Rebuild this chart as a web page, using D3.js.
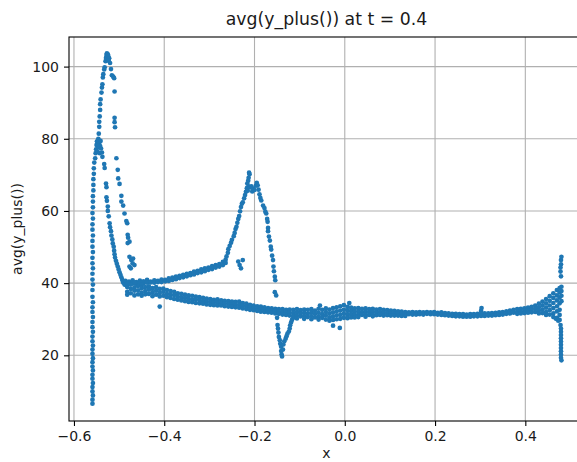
<!DOCTYPE html>
<html>
<head>
<meta charset="utf-8">
<script src="https://cdn.jsdelivr.net/npm/d3@7"></script>
<style>
  html, body { margin: 0; padding: 0; background: #ffffff; }
  svg { display: block; font-family: "DejaVu Sans", sans-serif; }
</style>
</head>
<body>
<svg id="chart" width="577" height="462"></svg>
<script>
// ---- data: avg(y_plus()) sampled along x at t = 0.4 ----
const chartTitle = "avg(y_plus()) at t = 0.4";
const xLabel = "x";
const yLabel = "avg(y_plus())";
const xTicks = [-0.6, -0.4, -0.2, 0.0, 0.2, 0.4];
const yTicks = [20, 40, 60, 80, 100];

// near-vertical column at the leading edge
const leftColumn = [
  [-0.559,6.6],[-0.559,7.7],[-0.558,8.9],[-0.559,10.0],[-0.559,11.2],[-0.558,12.3],[-0.559,13.5],
  [-0.559,14.6],[-0.558,15.8],[-0.559,16.9],[-0.559,18.1],[-0.558,19.2],[-0.559,20.4],[-0.559,21.6],
  [-0.558,22.7],[-0.559,23.9],[-0.559,25.2],[-0.558,26.5],[-0.559,27.8],[-0.559,29.2],[-0.558,30.6],
  [-0.559,32.0],[-0.559,33.3],[-0.558,34.7],[-0.559,36.2],[-0.559,38.1],[-0.558,39.6],[-0.559,41.0],
  [-0.559,42.6],[-0.558,44.1],[-0.559,45.5],[-0.559,47.0],[-0.558,48.6],[-0.559,50.1],[-0.559,51.7],
  [-0.558,53.2],[-0.559,54.8],[-0.559,56.3],[-0.558,57.9],[-0.559,59.4],[-0.558,61.0],[-0.558,62.6],
  [-0.558,64.1],[-0.557,65.7],[-0.557,67.2],[-0.557,68.8],[-0.556,70.3],[-0.556,71.8]
];

// rise to the leading-edge maximum
const leftPeakRise = [
  [-0.555,73.4],[-0.553,74.6],[-0.552,76.0],[-0.551,77.1],[-0.550,78.3],[-0.549,79.3],[-0.547,78.6],
  [-0.546,80.0],[-0.545,77.6],[-0.544,79.2],[-0.548,76.4],[-0.543,76.0],[-0.546,79.6],[-0.544,78.8],
  [-0.542,78.0],[-0.540,77.3],[-0.538,76.2],[-0.541,79.4],[-0.548,78.0],[-0.537,75.0],
  [-0.545,81.4],[-0.544,83.3],[-0.544,84.7],[-0.543,86.2],[-0.542,88.0],[-0.542,89.6],[-0.541,90.9],
  [-0.539,92.8],[-0.538,94.2],[-0.537,95.1],[-0.536,97.0],[-0.535,97.9],[-0.533,99.2],[-0.532,99.8],
  [-0.530,101.5],[-0.529,102.4],[-0.528,103.2],[-0.527,103.7],[-0.525,103.4],[-0.524,102.9],
  [-0.522,102.3],[-0.523,101.6]
];

// outer branch falling from the maximum
const outerDescent = [
  [-0.520,101.0],[-0.518,99.3],[-0.516,97.6],[-0.513,97.2],[-0.511,96.8],[-0.510,93.1],[-0.510,85.8],
  [-0.510,84.6],[-0.509,83.2],[-0.506,74.6],[-0.503,71.4],[-0.502,69.0],[-0.499,67.5],[-0.495,64.2],
  [-0.495,62.6],[-0.491,61.5],[-0.488,59.3],[-0.484,57.2],[-0.482,56.6],[-0.481,53.4],[-0.480,52.6],
  [-0.481,51.1],[-0.477,51.5],[-0.477,47.3],[-0.473,46.4],[-0.477,44.6],[-0.470,45.5],[-0.466,45.0],
  [-0.474,44.1],[-0.469,46.8]
];

// inner branch falling into the band
const innerDescent = [
  [-0.533,73.0],[-0.532,71.9],[-0.529,67.6],[-0.528,66.6],[-0.528,63.8],[-0.527,62.8],[-0.525,61.2],
  [-0.525,60.0],[-0.523,58.5],[-0.521,56.6],[-0.520,55.5],[-0.518,54.4],[-0.517,53.2],[-0.515,52.1],
  [-0.514,51.0],[-0.512,50.1],[-0.511,49.0],[-0.510,48.0],[-0.509,47.1],[-0.507,46.2],[-0.505,45.4],
  [-0.503,44.6],[-0.501,43.8],[-0.499,43.0],[-0.497,42.3],[-0.495,41.6],[-0.493,40.9],[-0.491,40.2],
  [-0.488,39.6]
];

// upper branch: [x, y values at that x]
const upperBranch = [
  [-0.486,40.6,39.6],[-0.478,40.4,39.7],[-0.470,40.8,39.9],[-0.462,40.3,39.8],[-0.454,40.7,40.0],
  [-0.446,40.5,39.9],[-0.438,40.9,40.1],[-0.430,40.4,40.2],[-0.422,40.8,40.1],[-0.414,40.6,40.3],
  [-0.406,41.0,40.3],[-0.398,40.9,40.5],[-0.390,41.3,40.6],[-0.382,41.5,40.9],[-0.374,41.8,41.1],
  [-0.366,42.0,41.4],[-0.358,42.3,41.6],[-0.350,42.6,41.9],[-0.342,42.8,42.2],[-0.334,43.2,42.4],
  [-0.326,43.4,42.8],[-0.318,43.8,43.0],[-0.310,44.1,43.3],[-0.302,44.3,43.7],[-0.294,44.7,43.9],
  [-0.286,45.0,44.3],[-0.278,45.3,44.6],[-0.270,45.9,45.0],[-0.264,46.5,45.6]
];

// second maximum near x = -0.2
const midPeak = [
  [-0.262,47.4],[-0.259,48.4],[-0.258,49.4],[-0.255,50.3],[-0.252,51.2],[-0.250,52.0],[-0.246,53.0],
  [-0.244,53.9],[-0.242,55.0],[-0.240,55.6],[-0.238,56.7],[-0.236,57.8],[-0.234,58.6],[-0.232,59.9],
  [-0.230,61.1],[-0.228,62.0],[-0.226,62.4],[-0.223,63.5],[-0.221,64.4],[-0.219,65.3],[-0.217,66.3],
  [-0.216,67.6],[-0.214,68.4],[-0.213,69.2],[-0.211,70.2],[-0.212,70.6],[-0.215,65.6],[-0.213,66.8],
  [-0.210,66.5],[-0.207,66.8],[-0.205,65.4],[-0.203,66.2],[-0.200,65.8],[-0.197,67.0],[-0.195,67.8],
  [-0.193,67.1],[-0.191,65.9],[-0.189,64.6],[-0.187,63.6],[-0.185,62.9],[-0.181,61.5],[-0.178,60.8],
  [-0.176,59.8],[-0.174,59.3],[-0.172,57.8],[-0.171,57.0],[-0.170,55.3],[-0.170,54.4],[-0.168,52.9],
  [-0.166,51.8],[-0.164,50.1],[-0.163,49.3],[-0.161,47.6],[-0.159,46.4],[-0.158,44.6],[-0.157,43.3],
  [-0.155,41.8],[-0.154,40.8],[-0.155,37.5],[-0.152,36.6],
  [-0.230,44.1],[-0.233,45.0],[-0.226,46.4],[-0.236,46.0]
];

// dip below the band
const dip = [
  [-0.150,30.4],[-0.149,28.4],[-0.148,27.4],[-0.147,26.3],[-0.146,25.1],[-0.144,24.2],[-0.143,23.2],
  [-0.141,22.4],[-0.141,21.2],[-0.140,20.3],[-0.139,19.7],[-0.137,21.6],[-0.136,23.0],[-0.134,23.9],
  [-0.131,24.6],[-0.129,25.3],[-0.127,26.0],[-0.124,26.6],[-0.122,27.4],[-0.121,28.3],[-0.119,29.1],
  [-0.117,29.8],[-0.114,30.4]
];

// main lower band: [x, y values at that x]
const lowerBand = [
  [-0.482,40.0,38.9,37.6,36.8],[-0.474,39.6,38.4,37.2],[-0.466,40.1,38.8,37.9,36.6],[-0.458,39.2,38.0,36.9],
  [-0.450,39.5,38.6,37.4,36.5],[-0.442,38.9,37.8,36.9],[-0.434,39.1,38.2,37.0],[-0.426,38.6,37.5,36.4],
  [-0.418,38.9,37.9,36.8],[-0.410,38.4,37.3,36.3,33.5],[-0.402,38.5,37.6,36.5],[-0.394,38.1,37.0,36.1],
  [-0.386,37.8,36.8,35.9],[-0.378,37.6,36.7,35.6],[-0.370,37.2,36.3,35.4],[-0.362,37.0,36.0,35.2],
  [-0.354,36.8,35.9,35.0],[-0.346,36.6,35.7,34.8],[-0.338,36.5,35.5,34.7],[-0.330,36.3,35.5,34.5],
  [-0.322,36.1,35.3,34.4],[-0.314,35.9,35.0,34.3],[-0.306,35.7,34.9,34.1],[-0.298,35.6,34.8,34.0],
  [-0.290,35.4,34.7,33.9],[-0.282,35.5,34.6,33.8],[-0.274,35.2,34.5,33.8],[-0.266,35.1,34.4,33.6],
  [-0.258,35.0,34.2,33.5],[-0.250,34.9,34.1,33.4],[-0.242,34.8,34.0,33.3],[-0.234,34.9,34.0,33.2],
  [-0.226,34.5,33.8,33.0],[-0.218,34.3,33.5,32.8],[-0.210,34.0,33.4,32.6],[-0.202,33.8,33.1,32.5],
  [-0.194,33.6,32.9,32.3],[-0.186,33.5,32.8,32.1],[-0.178,33.3,32.6,32.0],[-0.170,33.1,32.5,31.9],
  [-0.162,33.0,32.4,31.8],[-0.154,32.9,32.3,31.6],[-0.146,32.8,32.1,31.5],[-0.138,32.8,32.0,31.3],
  [-0.130,32.6,31.9,31.2],[-0.122,32.7,31.8,31.0],[-0.114,32.6,31.7,30.9],[-0.106,32.8,31.9,31.0,30.2],
  [-0.098,32.5,31.6,30.8],[-0.090,32.7,31.8,30.9,30.1],[-0.082,32.6,31.5,30.6],[-0.074,32.8,31.9,30.9,30.0],
  [-0.066,32.4,31.5,30.5],[-0.058,32.9,31.8,30.8,29.9],[-0.050,32.6,31.4,30.4],[-0.042,33.0,32.0,31.0,29.9],
  [-0.034,32.7,31.6,30.5,29.6],[-0.026,33.1,31.9,30.8,29.8,28.2],[-0.018,33.3,32.2,31.1,30.0],
  [-0.010,33.6,32.4,31.2,30.1],[-0.002,33.9,32.6,31.5,30.4],[0.006,33.4,32.3,31.2,30.3],
  [0.014,33.2,32.3,31.4,30.5],[0.022,33.0,32.1,31.2,30.5],[0.030,33.1,32.2,31.3,30.6],[0.038,32.9,32.0,31.2],
  [0.046,33.0,32.2,31.3,30.7],[0.054,32.8,32.0,31.2],[0.062,32.9,32.1,31.3,30.8],[0.070,32.7,31.9,31.1],
  [0.078,32.8,32.0,31.2],[0.086,32.6,31.8,31.0],[0.094,32.5,31.8,31.1],[0.102,32.4,31.7,31.0],
  [0.110,32.3,31.6,31.0],[0.118,32.2,31.6,31.0],[0.126,32.1,31.5,30.9],[0.134,32.0,31.4,30.9],
  [0.142,31.9,31.4],[0.150,32.0,31.3],[0.158,31.9,31.3],[0.166,32.0,31.4],[0.174,31.9,31.3],
  [0.182,32.0,31.5],[0.190,31.9,31.4],[0.198,32.0,31.4],[0.206,31.8,31.3],[0.214,31.9,31.2],
  [0.222,31.7,31.1],[0.230,31.6,31.0],[0.238,31.5,30.9],[0.246,31.5,30.8],[0.254,31.4,30.8],
  [0.262,31.4,30.7],[0.270,31.3,30.7],[0.278,31.4,30.7],[0.286,31.4,30.8],[0.294,31.5,30.8],
  [0.302,32.3,31.5,30.9],[0.310,31.6,30.9],[0.318,31.6,31.0],[0.326,31.7,31.0],[0.334,31.8,31.1],
  [0.342,31.9,31.2],[0.350,32.0,31.3],[0.358,32.2,31.5],[0.366,32.4,31.6],[0.374,32.6,31.8],
  [0.382,32.8,32.0,31.5],[0.390,32.9,32.1,31.6],[0.398,33.0,32.3,31.7],[0.406,33.2,32.4,31.8],
  [0.414,33.4,32.6,31.9],[0.422,33.8,32.9,32.0],[0.430,34.3,33.3,32.4,31.6],[0.438,34.9,33.8,32.7,31.7],
  [0.446,35.6,34.4,33.2,32.0,31.2],[0.454,36.4,35.1,33.8,32.5,31.3],[0.462,37.2,35.9,34.5,33.1,31.6,30.6],
  [0.470,38.1,36.6,35.2,33.6,32.2,30.4],[0.476,38.6,37.4,36.0,34.4,32.6,31.2,29.8],
  [0.480,39.0,37.8,36.5,35.0]
];

// isolated samples around the band
const bandOutliers = [
  [-0.011,27.6],[0.010,34.5],[-0.055,33.8],[0.303,33.1],[0.473,29.6],[0.468,30.1]
];

// trailing-edge spikes
const rightSpikeTop = [[0.479,41.9],[0.478,43.2],[0.478,44.3],[0.479,45.2],[0.479,46.4],[0.480,47.3]];
const rightSpikeBottom = [
  [0.478,28.4],[0.479,27.4],[0.479,26.5],[0.479,25.6],[0.479,24.7],[0.479,23.8],[0.479,22.9],
  [0.479,22.0],[0.479,21.1],[0.479,20.2],[0.479,19.3],[0.480,18.6]
];

// ---- layout ----
const svg = d3.select("#chart");
const W = 577, H = 462;
const plot = { left: 69, right: 584, top: 37, bottom: 421 };

const x = d3.scaleLinear().domain([-0.611, 0.530]).range([plot.left, plot.right]);
const y = d3.scaleLinear().domain([1.8, 108.2]).range([plot.bottom, plot.top]);

const expand = cols => cols.flatMap(c => c.slice(1).map(v => [c[0], v]));
const points = [].concat(
  leftColumn, leftPeakRise, outerDescent, innerDescent,
  expand(upperBranch), midPeak, dip, expand(lowerBand),
  bandOutliers, rightSpikeTop, rightSpikeBottom
);

svg.append("rect").attr("width", W).attr("height", H).attr("fill", "#ffffff");

svg.append("defs").append("clipPath").attr("id", "plot-clip")
  .append("rect")
  .attr("x", plot.left).attr("y", plot.top)
  .attr("width", plot.right - plot.left).attr("height", plot.bottom - plot.top);

// grid
const grid = svg.append("g").attr("stroke", "#b0b0b0").attr("stroke-width", 1.1);
grid.selectAll("line.gx").data(xTicks).join("line")
  .attr("x1", d => x(d)).attr("x2", d => x(d))
  .attr("y1", plot.top).attr("y2", plot.bottom);
grid.selectAll("line.gy").data(yTicks).join("line")
  .attr("x1", plot.left).attr("x2", plot.right)
  .attr("y1", d => y(d)).attr("y2", d => y(d));

// points
svg.append("g").attr("clip-path", "url(#plot-clip)")
  .selectAll("circle").data(points).join("circle")
  .attr("cx", d => x(d[0]))
  .attr("cy", d => y(d[1]))
  .attr("r", 2.35)
  .attr("fill", "#1f77b4");

// axes
const fmtX = d3.format(".1f");
const xAxis = svg.append("g")
  .attr("transform", `translate(0,${plot.bottom})`)
  .call(d3.axisBottom(x).tickValues(xTicks).tickSize(5).tickPadding(5).tickFormat(fmtX));
const yAxis = svg.append("g")
  .attr("transform", `translate(${plot.left},0)`)
  .call(d3.axisLeft(y).tickValues(yTicks).tickSize(5).tickPadding(5).tickFormat(d3.format("d")));

[xAxis, yAxis].forEach(g => {
  g.select(".domain").remove();
  g.selectAll(".tick line").attr("stroke", "#000").attr("stroke-width", 1.1);
  g.selectAll(".tick text")
    .attr("fill", "#1a1a1a")
    .style("font-family", "'DejaVu Sans', sans-serif")
    .style("font-size", "14px");
});

// spines
const spines = svg.append("g").attr("stroke", "#000").attr("stroke-width", 1.1).attr("fill", "none");
spines.append("rect")
  .attr("x", plot.left).attr("y", plot.top)
  .attr("width", plot.right - plot.left).attr("height", plot.bottom - plot.top);

// title and labels
svg.append("text")
  .attr("x", (plot.left + plot.right) / 2).attr("y", 25)
  .attr("text-anchor", "middle")
  .attr("fill", "#1a1a1a")
  .style("font-size", "17.3px")
  .text(chartTitle);

svg.append("text")
  .attr("x", (plot.left + plot.right) / 2).attr("y", 458)
  .attr("text-anchor", "middle")
  .attr("fill", "#1a1a1a")
  .style("font-size", "14px")
  .text(xLabel);

svg.append("text")
  .attr("transform", `translate(22,${(plot.top + plot.bottom) / 2}) rotate(-90)`)
  .attr("text-anchor", "middle")
  .attr("fill", "#1a1a1a")
  .style("font-size", "14px")
  .text(yLabel);
</script>
</body>
</html>
